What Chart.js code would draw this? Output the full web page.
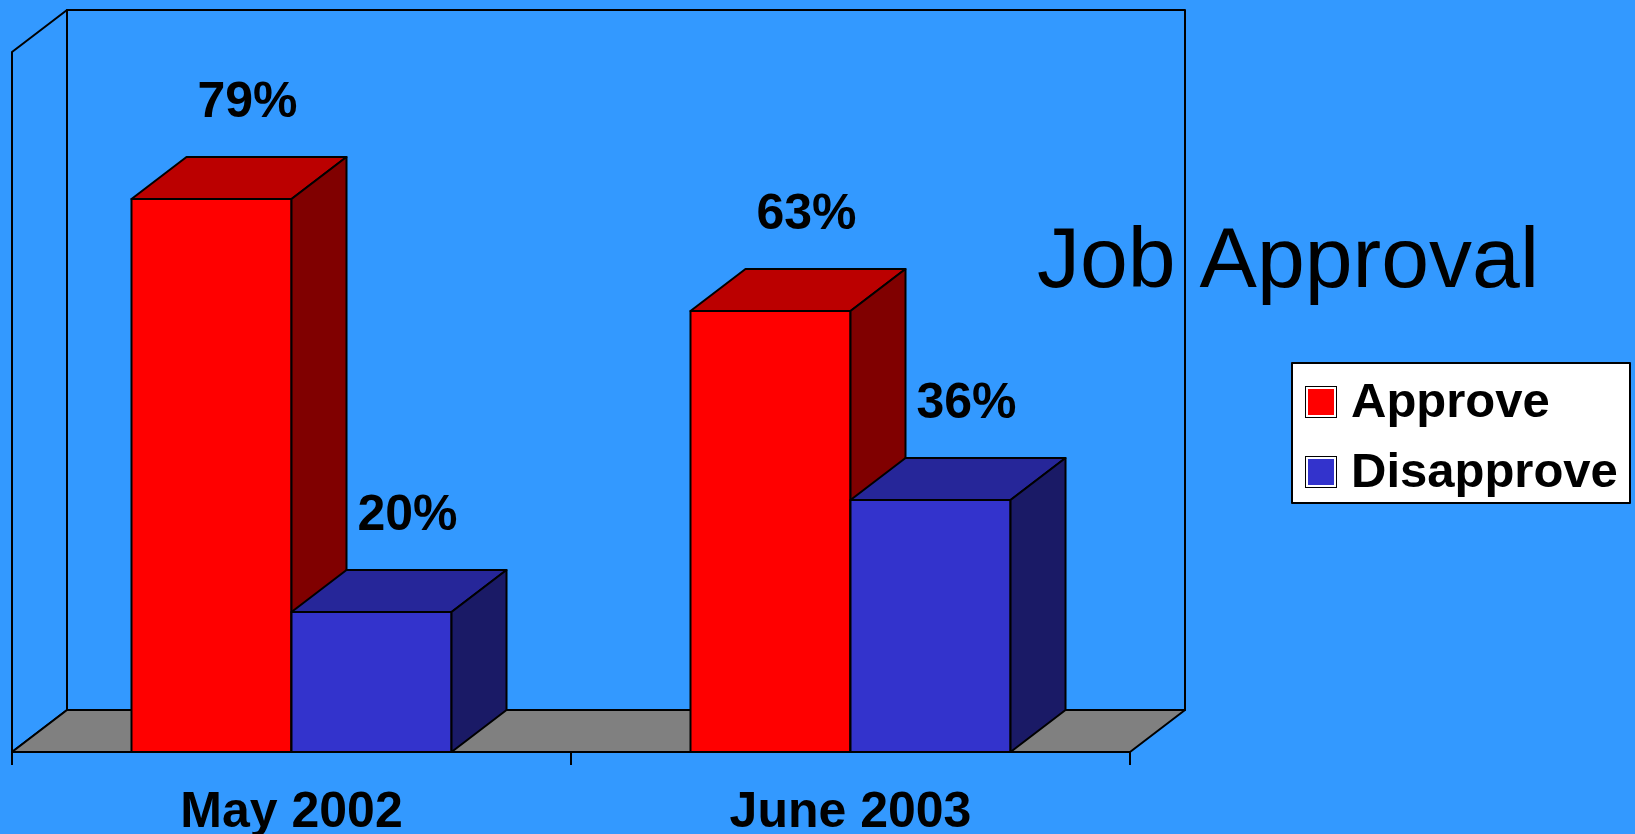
<!DOCTYPE html>
<html>
<head>
<meta charset="utf-8">
<script src="https://cdn.jsdelivr.net/npm/chart.js@4/dist/chart.umd.min.js"></script>
<style>
html,body{margin:0;padding:0;background:#3399FF;}
canvas{display:block;}
</style>
</head>
<body>
<canvas id="c" width="1635" height="834"></canvas>
<script>
const categories = ['May 2002', 'June 2003'];
const approveValues = [79, 63];
const disapproveValues = [20, 36];
const seriesNames = ['Approve', 'Disapprove'];
const chartTitle = 'Job Approval';

const FONT = '"Liberation Sans", Arial, Helvetica, sans-serif';
const DX = 55, DY = -42;
const faceColors = [
  {front: '#FF0000', top: '#BB0000', side: '#800000'},
  {front: '#3333CC', top: '#262699', side: '#1A1A66'}
];

function poly(ctx, pts, fill) {
  ctx.beginPath();
  ctx.moveTo(pts[0][0], pts[0][1]);
  for (let i = 1; i < pts.length; i++) ctx.lineTo(pts[i][0], pts[i][1]);
  ctx.closePath();
  if (fill) { ctx.fillStyle = fill; ctx.fill(); }
  ctx.stroke();
}

const scene3d = {
  id: 'scene3d',
  beforeDraw(chart) {
    const ctx = chart.ctx;
    ctx.save();
    ctx.fillStyle = '#3399FF';
    ctx.fillRect(0, 0, chart.width, chart.height);
    ctx.restore();
  },
  beforeDatasetsDraw(chart) {
    const ctx = chart.ctx;
    const a = chart.chartArea;
    ctx.save();
    ctx.strokeStyle = '#000';
    ctx.lineWidth = 2;
    ctx.lineJoin = 'round';
    // back wall
    ctx.strokeRect(a.left + DX, a.top + DY, a.right - a.left, a.bottom - a.top);
    // left wall
    poly(ctx, [[a.left, a.top], [a.left + DX, a.top + DY], [a.left + DX, a.bottom + DY], [a.left, a.bottom]], null);
    // floor
    poly(ctx, [[a.left, a.bottom], [a.left + DX, a.bottom + DY], [a.right + DX, a.bottom + DY], [a.right, a.bottom]], '#808080');
    // ticks & category labels
    const xs = chart.scales.x;
    const catW = (a.right - a.left) / categories.length;
    ctx.beginPath();
    for (let i = 0; i <= categories.length; i++) {
      const tx = a.left + i * catW;
      ctx.moveTo(tx, a.bottom);
      ctx.lineTo(tx, a.bottom + 13);
    }
    ctx.stroke();
    ctx.fillStyle = '#000';
    ctx.font = 'bold 50px ' + FONT;
    ctx.textAlign = 'center';
    ctx.textBaseline = 'alphabetic';
    categories.forEach((c, i) => {
      ctx.fillText(c, xs.getPixelForValue(i), a.bottom + 75);
    });
    ctx.restore();
  },
  afterDatasetsDraw(chart) {
    const ctx = chart.ctx;
    ctx.save();
    ctx.strokeStyle = '#000';
    ctx.lineWidth = 2;
    ctx.lineJoin = 'round';
    const n = categories.length;
    const nd = chart.data.datasets.length;
    for (let i = 0; i < n; i++) {
      for (let d = 0; d < nd; d++) {
        const bar = chart.getDatasetMeta(d).data[i];
        const p = bar.getProps(['x', 'y', 'base', 'width'], true);
        const l = p.x - p.width / 2, r = p.x + p.width / 2;
        const t = p.y, b = p.base;
        const col = faceColors[d];
        poly(ctx, [[l, t], [r, t], [r, b], [l, b]], col.front);
        poly(ctx, [[l, t], [l + DX, t + DY], [r + DX, t + DY], [r, t]], col.top);
        poly(ctx, [[r, t], [r + DX, t + DY], [r + DX, b + DY], [r, b]], col.side);
      }
    }
    // value labels
    ctx.fillStyle = '#000';
    ctx.font = 'bold 50px ' + FONT;
    ctx.textAlign = 'center';
    ctx.textBaseline = 'middle';
    for (let d = 0; d < nd; d++) {
      const ds = chart.data.datasets[d];
      chart.getDatasetMeta(d).data.forEach((bar, i) => {
        ctx.fillText(ds.data[i] + '%', bar.x + 36, bar.y - 96);
      });
    }
    // title
    ctx.font = '86px ' + FONT;
    ctx.textBaseline = 'alphabetic';
    ctx.fillText(chartTitle, 1288, 287);
    // legend
    const lx = 1292, ly = 363, lw = 338, lh = 140;
    ctx.fillStyle = '#FFFFFF';
    ctx.fillRect(lx, ly, lw, lh);
    ctx.strokeRect(lx, ly, lw, lh);
    ctx.font = 'bold 49px ' + FONT;
    ctx.textAlign = 'left';
    chart.data.datasets.forEach((ds, k) => {
      const sy = 386 + k * 70;
      ctx.fillStyle = '#000';
      ctx.fillRect(1305, sy, 32, 32);
      ctx.fillStyle = '#FFF';
      ctx.fillRect(1306, sy + 1, 30, 30);
      ctx.fillStyle = ds.backgroundColor;
      ctx.fillRect(1308, sy + 3, 26, 26);
      ctx.fillStyle = '#000';
      ctx.fillText(ds.label, 1351, 417 + k * 70);
    });
    ctx.restore();
  }
};

new Chart(document.getElementById('c'), {
  type: 'bar',
  data: {
    labels: categories,
    datasets: [
      {label: seriesNames[0], data: approveValues, backgroundColor: '#FF0000', borderColor: '#000', borderWidth: 2},
      {label: seriesNames[1], data: disapproveValues, backgroundColor: '#3333CC', borderColor: '#000', borderWidth: 2}
    ]
  },
  options: {
    responsive: false,
    animation: false,
    devicePixelRatio: 1,
    categoryPercentage: 0.5725,
    barPercentage: 1,
    layout: {padding: {left: 12, right: 505, top: 52, bottom: 82}},
    scales: {
      x: {display: false, offset: true},
      y: {display: false, min: 0, max: 100}
    },
    plugins: {legend: {display: false}, tooltip: {enabled: false}, title: {display: false}}
  },
  plugins: [scene3d]
});
</script>
</body>
</html>
